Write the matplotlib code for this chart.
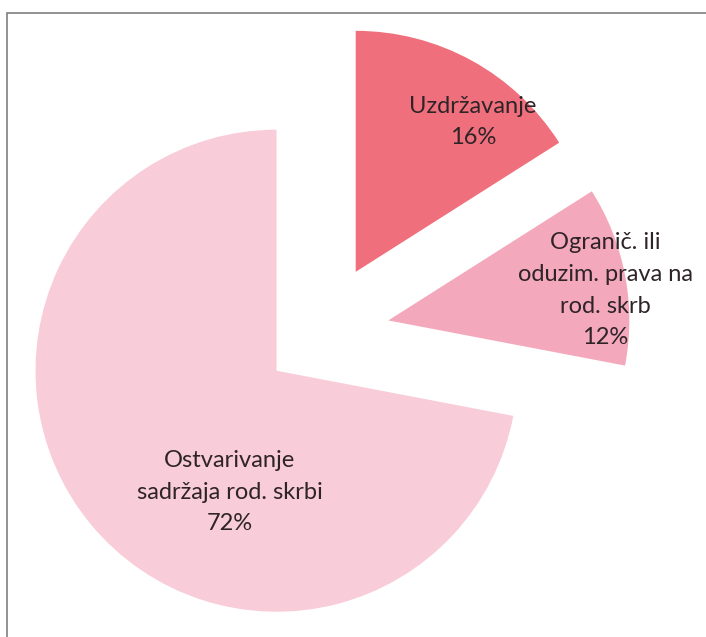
import numpy as np
import matplotlib
matplotlib.use("Agg")
import matplotlib.pyplot as plt
from matplotlib.patches import Rectangle

# Data
labels = ["Uzdržavanje", "Ogranič. ili\noduzim. prava na\nrod. skrb", "Ostvarivanje\nsadržaja rod. skrbi"]
shares = [16, 12, 72]
colours = ["#EF707C", "#F4A8BC", "#F8CCD8"]
explode = [0.29, 0.28, 0.245]

# label placement inside each wedge: (fraction of radius, angle in degrees)
label_pos = [(0.79, 52), (0.91, 7.9), (0.54, 249)]

fig = plt.figure(figsize=(7.06, 6.37), dpi=100)
ax = fig.add_axes([0, 0, 1, 1])

wedges, _ = ax.pie(shares, colors=colours, explode=explode, startangle=90,
                   counterclock=False, radius=1.0,
                   wedgeprops=dict(linewidth=0))

for w, lab, val, (rr, ang) in zip(wedges, labels, shares, label_pos):
    cx, cy = w.center
    a = np.deg2rad(ang)
    ax.text(cx + rr * w.r * np.cos(a), cy + rr * w.r * np.sin(a),
            f"{lab}\n{val}%", ha="center", va="center", fontsize=17,
            family="Lato", color="#2e2428", linespacing=1.62)

ax.set_xlim(-1.336, 1.593)
ax.set_ylim(-1.261, 1.382)
ax.set_aspect("equal")
ax.axis("off")

# frame around the chart area
fig.add_artist(Rectangle((7 / 706, -0.1), 1.2, (637 - 13) / 637 + 0.1,
                         transform=fig.transFigure, fill=False,
                         edgecolor="#7f7f7f", linewidth=1.2))

fig.savefig("out.png", dpi=100)
